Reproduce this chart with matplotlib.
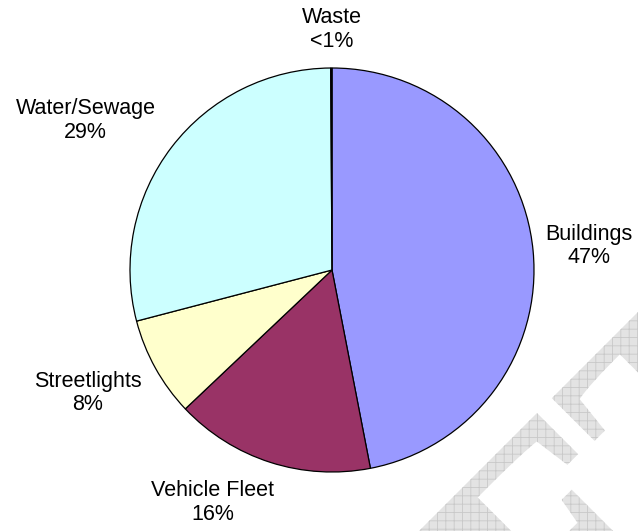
import numpy as np
import matplotlib.pyplot as plt
from matplotlib.font_manager import FontProperties
from matplotlib.patches import PathPatch
from matplotlib.textpath import TextPath
from matplotlib.transforms import Affine2D, IdentityTransform

# emissions share by sector
sectors = ["Buildings", "Vehicle Fleet", "Streetlights", "Water/Sewage", "Waste"]
shares = [47, 16, 8, 29, 0.1]
colours = ["#9999FF", "#993366", "#FFFFCC", "#CCFFFF", "#660066"]

# label anchors, in units of the pie radius
label_xy = [(1.27, 0.12), (-0.59, -1.15), (-1.21, -0.61), (-1.22, 0.74), (0.0, 1.19)]

W, H, DPI = 638, 531, 100
CX, CY, R = 332, 261, 202   # pie centre / radius in pixels

plt.rcParams['font.family'] = ['Liberation Sans', 'DejaVu Sans']
plt.rcParams['hatch.linewidth'] = 0.6

fig = plt.figure(figsize=(W / DPI, H / DPI), dpi=DPI)

# faint "DRAFT" stamp in the corner
fp = FontProperties(family='Liberation Serif', weight='bold')
em = 330
stamp = TextPath((0, 0), "DRAFT", size=em, prop=fp)
upto_f = TextPath((0, 0), "DRAF", size=em, prop=fp).get_extents()
cap = TextPath((0, 0), "F", size=em, prop=fp).get_extents().y1
tr = Affine2D().translate(-upto_f.x1, -cap).rotate_deg(45).translate(537, H - 413)
fig.patches.append(PathPatch(tr.transform_path(stamp), facecolor="#e3e3e3",
                             edgecolor="#c8c8c8", hatch="++", linewidth=0,
                             transform=IdentityTransform(), figure=fig, zorder=0))

ax = fig.add_axes([0, 0, 1, 1])
ax.patch.set_alpha(0)
wedges, _ = ax.pie(shares, colors=colours, startangle=90, counterclock=False,
                   radius=1, wedgeprops=dict(edgecolor="black", linewidth=0.9))

total = sum(shares)
for name, val, (lx, ly) in zip(sectors, shares, label_xy):
    pct = 100 * val / total
    txt = "<1%" if pct < 1 else f"{pct:.0f}%"
    ax.text(lx, ly, f"{name}\n{txt}", ha="center", va="center",
            fontsize=15.5, linespacing=1.15)

ax.set_xlim(-CX / R, (W - CX) / R)
ax.set_ylim(-CY / R, (H - CY) / R)
ax.set_aspect('equal')
ax.axis('off')

plt.savefig("out.png", dpi=DPI)
